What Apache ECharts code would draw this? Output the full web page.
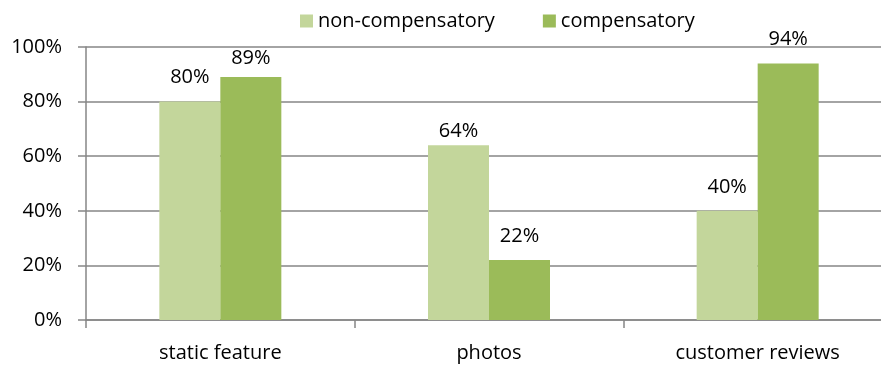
<!DOCTYPE html>
<html>
<head>
<meta charset="utf-8">
<script src="https://cdn.jsdelivr.net/npm/echarts@6/dist/echarts.min.js"></script>
<style>
  html, body { margin: 0; padding: 0; background: #fff; }
  #chart { width: 881px; height: 367px; }
</style>
</head>
<body>
<div id="chart"></div>
<script>
// Share of each information type, by decision strategy (percent)
const categories = ['static feature', 'photos', 'customer reviews'];
const seriesNames = ['non-compensatory', 'compensatory'];
const nonCompensatory = [80, 64, 40];
const compensatory = [89, 22, 94];
const yTicks = [0, 20, 40, 60, 80, 100];

const FONT = 'Open Sans';
const FONT_SIZE = 20;
const AXIS_GRAY = '#868686';
const colors = ['#C3D69B', '#9BBB59'];

// Gap between a bar top and its value label; a few labels sit lower
// so they stay clear of the gridlines.
const LABEL_GAP = 14;
const labelGapOverride = [
  { 1: 3.5 },   // non-compensatory: photos
  { 0: 9 }      // compensatory: static feature
];

const chart = echarts.init(document.getElementById('chart'), null, { renderer: 'canvas' });

function buildData(values, seriesIndex) {
  const overrides = labelGapOverride[seriesIndex];
  return values.map((v, i) => (
    overrides[i] !== undefined
      ? { value: v, label: { distance: overrides[i] } }
      : v
  ));
}

const labelStyle = {
  show: true,
  position: 'top',
  distance: LABEL_GAP,
  formatter: p => p.value + '%',
  color: '#000',
  fontFamily: FONT,
  fontSize: FONT_SIZE
};

chart.setOption({
  animation: false,
  backgroundColor: '#fff',
  textStyle: { fontFamily: FONT },
  legend: {
    data: seriesNames,
    left: 295,
    top: 6,
    itemWidth: 13,
    itemHeight: 13,
    itemGap: 48,
    icon: 'rect',
    textStyle: { fontFamily: FONT, fontSize: FONT_SIZE, color: '#000' }
  },
  grid: {
    left: 86,
    top: 47,
    width: 806,
    height: 273,
    outerBoundsMode: 'none',
    containLabel: false
  },
  xAxis: {
    type: 'category',
    data: categories,
    axisLine: { lineStyle: { color: AXIS_GRAY, width: 1.5 } },
    axisTick: { show: true, length: 8, alignWithLabel: false, lineStyle: { color: AXIS_GRAY, width: 1.5 } },
    axisLabel: { color: '#000', fontFamily: FONT, fontSize: FONT_SIZE, margin: 23 }
  },
  yAxis: {
    type: 'value',
    min: yTicks[0],
    max: yTicks[yTicks.length - 1],
    interval: yTicks[1] - yTicks[0],
    axisLine: { show: true, lineStyle: { color: AXIS_GRAY, width: 1.5 } },
    axisTick: { show: true, length: 8, lineStyle: { color: AXIS_GRAY, width: 1.5 } },
    axisLabel: {
      color: '#000', fontFamily: FONT, fontSize: FONT_SIZE, margin: 24,
      formatter: v => v + '%'
    },
    splitLine: { show: true, lineStyle: { color: AXIS_GRAY, width: 1.5 } }
  },
  series: [
    {
      name: seriesNames[0],
      type: 'bar',
      data: buildData(nonCompensatory, 0),
      barWidth: 61,
      barGap: '0%',
      itemStyle: { color: colors[0] },
      label: labelStyle
    },
    {
      name: seriesNames[1],
      type: 'bar',
      data: buildData(compensatory, 1),
      barWidth: 61,
      barGap: '0%',
      itemStyle: { color: colors[1] },
      label: labelStyle
    }
  ]
});
</script>
</body>
</html>
